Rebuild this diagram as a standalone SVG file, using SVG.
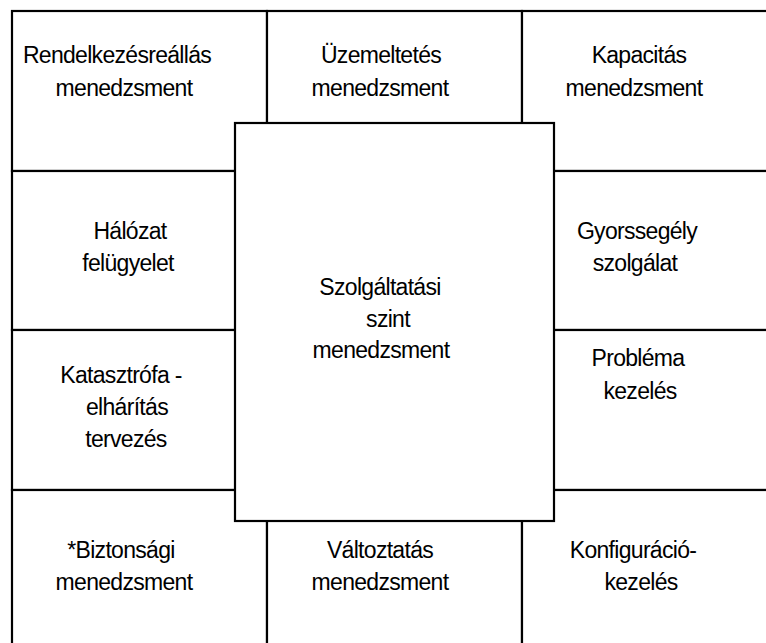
<svg xmlns="http://www.w3.org/2000/svg" width="766" height="643" viewBox="0 0 766 643">
<style>
.cell{fill:#fff;stroke:#000;stroke-width:2.2}
.t{font-family:"Liberation Sans",Arial,sans-serif;font-size:23px;fill:#000;text-anchor:middle;letter-spacing:-0.7px}
</style>
<rect width="766" height="643" fill="#fff"/>
<g id="rendelkezes"><rect class="cell" x="12" y="11" width="255" height="160"/><text class="t" x="117" y="63">Rendelkezésreállás</text><text class="t" x="124" y="96">menedzsment</text></g>
<g id="uzemeltetes"><rect class="cell" x="267" y="11" width="255" height="160"/><text class="t" x="381" y="63">Üzemeltetés</text><text class="t" x="380" y="96">menedzsment</text></g>
<g id="kapacitas"><rect class="cell" x="522" y="11" width="260" height="160"/><text class="t" x="639" y="63">Kapacitás</text><text class="t" x="634" y="96">menedzsment</text></g>
<g id="halozat"><rect class="cell" x="12" y="171" width="255" height="159"/><text class="t" x="130" y="239">Hálózat</text><text class="t" x="128" y="271">felügyelet</text></g>
<g id="gyorssegely"><rect class="cell" x="522" y="171" width="260" height="159"/><text class="t" x="637" y="239">Gyorssegély</text><text class="t" x="635" y="271">szolgálat</text></g>
<g id="katasztrofa"><rect class="cell" x="12" y="330" width="255" height="160"/><text class="t" x="121" y="383">Katasztrófa -</text><text class="t" x="127" y="415">elhárítás</text><text class="t" x="126" y="447">tervezés</text></g>
<g id="problema"><rect class="cell" x="522" y="330" width="260" height="160"/><text class="t" x="638" y="366">Probléma</text><text class="t" x="640" y="399">kezelés</text></g>
<g id="biztonsagi"><rect class="cell" x="12" y="490" width="255" height="170"/><text class="t" x="121" y="558">*Biztonsági</text><text class="t" x="124" y="590">menedzsment</text></g>
<g id="valtoztatas"><rect class="cell" x="267" y="490" width="255" height="170"/><text class="t" x="380" y="558">Változtatás</text><text class="t" x="380" y="590">menedzsment</text></g>
<g id="konfiguracio"><rect class="cell" x="522" y="490" width="260" height="170"/><text class="t" x="633" y="558">Konfiguráció-</text><text class="t" x="641" y="590">kezelés</text></g>
<g id="szolgaltatasi"><rect class="cell" x="235" y="123" width="319" height="398"/><text class="t" x="380" y="295">Szolgáltatási</text><text class="t" x="388" y="327">szint</text><text class="t" x="381" y="358">menedzsment</text></g>
<g id="connectors"></g>
</svg>
